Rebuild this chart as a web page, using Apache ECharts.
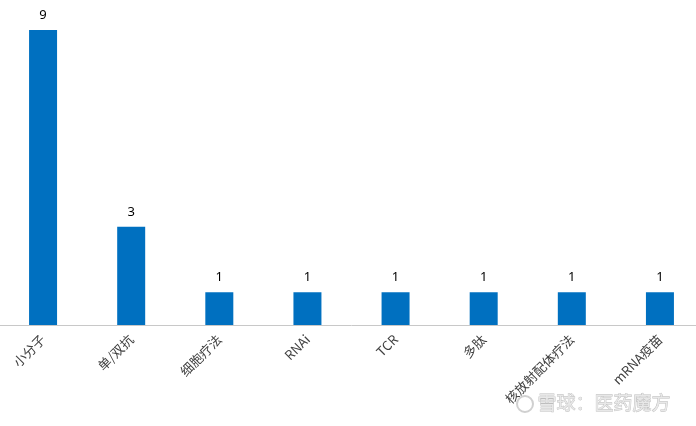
<!DOCTYPE html>
<html>
<head>
<meta charset="utf-8">
<script src="https://cdn.jsdelivr.net/npm/echarts@6/dist/echarts.min.js"></script>
<style>
html,body{margin:0;padding:0;background:#fff;overflow:hidden;width:696px;height:426px;}
#c{position:absolute;left:-1px;top:0;width:720px;height:426px;}
</style>
</head>
<body>
<div id="c"></div>
<script>
const categories = ['小分子', '单/双抗', '细胞疗法', 'RNAi', 'TCR', '多肽', '核放射配体疗法', 'mRNA疫苗'];
const values = [9, 3, 1, 1, 1, 1, 1, 1];

const chart = echarts.init(document.getElementById('c'));
chart.setOption({
  animation: false,
  backgroundColor: '#ffffff',
  grid: { left: 0, width: 705, top: 30, bottom: 101, containLabel: false },
  xAxis: {
    type: 'category',
    data: categories,
    axisLine: { show: true, lineStyle: { color: '#c8c8c8', width: 1 } },
    axisTick: { show: false },
    axisLabel: {
      rotate: 45,
      interval: 0,
      margin: 12,
      color: '#404040',
      fontSize: 13,
      fontFamily: 'Noto Sans CJK SC, Noto Sans, sans-serif'
    }
  },
  yAxis: {
    type: 'value',
    min: 0,
    max: 9,
    show: false,
    splitLine: { show: false }
  },
  series: [{
    type: 'bar',
    data: values,
    barWidth: 28,
    itemStyle: { color: '#0070c0' },
    label: {
      show: true,
      position: 'top',
      distance: 8,
      color: '#000000',
      fontSize: 13,
      fontFamily: 'Noto Sans, sans-serif'
    }
  }],
  graphic: [
    {
      type: 'circle',
      shape: { cx: 526, cy: 404, r: 8 },
      style: { fill: 'none', stroke: '#d0d0d0', lineWidth: 2 },
      z: 100
    },
    {
      type: 'text',
      left: 538,
      top: 393,
      style: {
        text: '雪球：医药魔方',
        fontSize: 19,
        fontFamily: 'Noto Sans CJK SC, sans-serif',
        fill: '#e8e8e8',
        stroke: '#bdbdbd',
        lineWidth: 0.8
      },
      z: 100
    }
  ]
});
</script>
</body>
</html>
